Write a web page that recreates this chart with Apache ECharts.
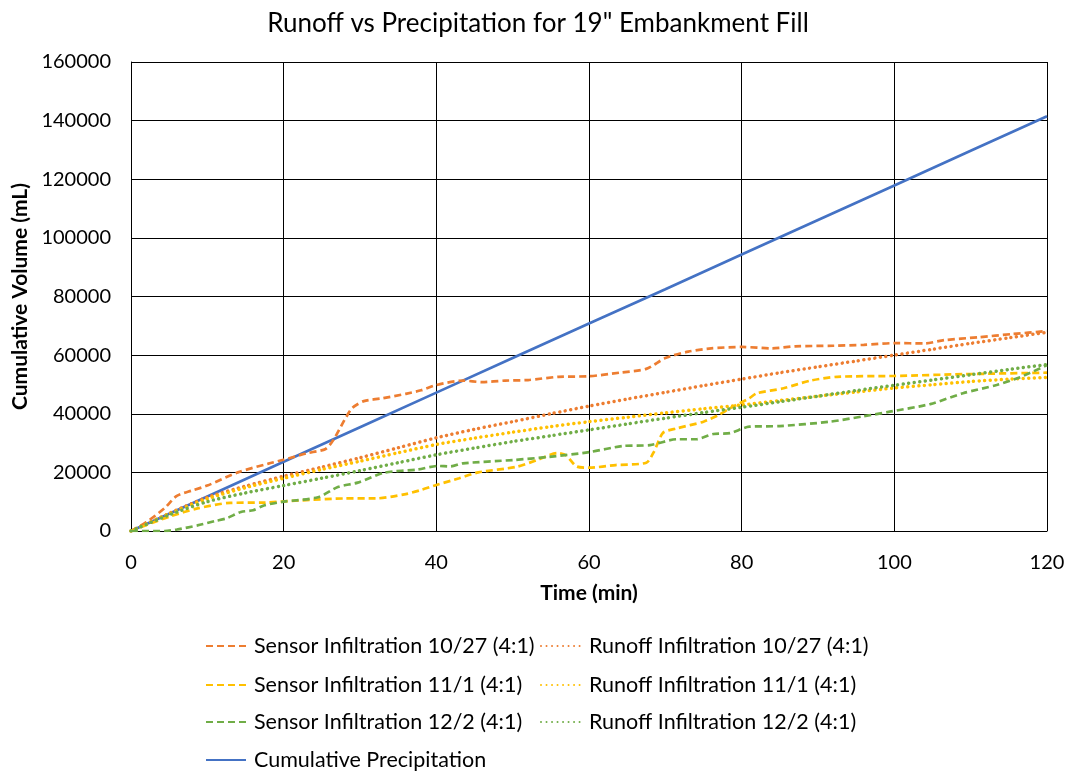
<!DOCTYPE html>
<html><head><meta charset="utf-8">
<script src="https://cdn.jsdelivr.net/npm/echarts@6/dist/echarts.min.js"></script>
<style>html,body{margin:0;padding:0;background:#fff}#c{width:1071px;height:772px}</style>
</head><body><div id="c"></div>
<script>
const titleText = 'Runoff vs Precipitation for 19" Embankment Fill';
const xTicks = [0, 20, 40, 60, 80, 100, 120];
const seriesNames = [
  'Sensor Infiltration 10/27 (4:1)', 'Runoff Infiltration 10/27 (4:1)',
  'Sensor Infiltration 11/1 (4:1)', 'Runoff Infiltration 11/1 (4:1)',
  'Sensor Infiltration 12/2 (4:1)', 'Runoff Infiltration 12/2 (4:1)',
  'Cumulative Precipitation'
];
const sensor1027 = [[0,0],[2,3000],[4.4,7800],[6,12000],[8,13800],[10,15500],[14,20000],[18,23000],[20,24300],[23,26500],[25.5,28000],[26.5,31000],[28,38000],[29,42000],[30.5,44300],[33,45300],[36,46800],[38,48000],[40,49800],[43.5,51300],[46,50800],[49,51300],[52,51500],[56,52600],[60,52800],[64,54000],[67.5,55300],[70,59000],[73,61200],[76,62300],[80,62800],[84,62300],[87,63000],[92,63200],[96,63500],[100,64100],[104,64000],[106.5,65100],[111,66100],[115.5,67200],[120,68200]];
const runoff1027 = [[0,0],[5,6000],[10,11500],[15,15300],[20,18700],[25,21800],[30,25000],[35,28400],[40,31800],[45,34700],[50,37300],[55,40000],[60,42600],[65,45000],[70,47300],[75,49600],[80,51800],[85,54000],[90,56000],[95,58000],[100,60000],[105,62000],[110,64000],[115,65900],[120,67800]];
const sensor111 = [[0,0],[3,3000],[5,4900],[8.7,7700],[13,9600],[17.5,9700],[22,10400],[28,11100],[32,11100],[36,12600],[38,14000],[40,15700],[43,18000],[45.5,20000],[50.5,21900],[53.5,24500],[55.8,26600],[57,25800],[58.4,22000],[60,21600],[63.5,22500],[67.5,23300],[68.5,27000],[69.7,33500],[71.5,35000],[75,37300],[77,39600],[78.5,41900],[81,45300],[82,47000],[85.5,48700],[89,51300],[92.5,52600],[100,52900],[109,53500],[120,54000]];
const runoff111 = [[0,0],[5,5800],[10,11000],[15,14800],[20,18000],[25,21000],[30,23800],[35,26700],[40,29500],[45,31700],[50,33700],[55,35600],[60,37300],[65,38800],[70,40300],[75,41700],[80,43000],[85,44500],[90,46000],[95,47400],[100,48800],[105,49900],[110,51000],[115,51800],[120,52400]];
const sensor122 = [[0,0],[4.4,0],[6,500],[8.7,1900],[11,3400],[12.5,4300],[14.4,6500],[16,7100],[17.5,8800],[20,10000],[24.5,11500],[27.1,15000],[29.7,16500],[33.2,19900],[37.6,21000],[40.2,22200],[41.8,22000],[43.5,23100],[50,24200],[54.8,25300],[60,26900],[64.4,29000],[68,29300],[71.5,31300],[74,31300],[76.3,33100],[78.5,33400],[81,35600],[85,35800],[91.6,37300],[95.9,39100],[99.4,40700],[104.7,43300],[109,47000],[113.4,49800],[116.5,52500],[120,56600]];
const runoff122 = [[0,0],[5,5500],[10,10000],[15,13000],[20,15500],[25,18000],[30,20600],[35,23300],[40,26000],[45,28300],[50,30500],[55,32500],[60,34500],[65,36500],[70,38500],[75,40400],[80,42200],[85,44100],[90,46000],[95,47900],[100,49700],[105,51500],[110,53300],[115,55100],[120,56800]];
const precip = [[0,0],[10,11800],[20,23600],[30,35400],[40,47200],[50,59000],[60,70800],[70,82500],[80,94300],[90,106100],[100,117900],[110,129700],[120,141500]];

const FONT = 'Lato';
const colors = ['#ED7D31','#ED7D31','#FFC000','#FFC000','#70AD47','#70AD47','#4472C4'];
const datasets = [sensor1027, runoff1027, sensor111, runoff111, sensor122, runoff122, precip];
const isDotted = [false, true, false, true, false, true, false];

const series = datasets.map((d, i) => ({
  name: seriesNames[i], type: 'line', data: d, symbol: 'none',
  smooth: i === 6 ? false : 0.25,
  lineStyle: isDotted[i]
    ? { color: colors[i], width: 3.5, type: [0.01, 5.5], cap: 'round' }
    : { color: colors[i], width: 2.7, type: i === 6 ? 'solid' : [7, 4], cap: 'butt' },
  itemStyle: { color: colors[i] },
  z: i === 6 ? 1 : 2
}));

// legend slots: [seriesIndex, left, centerY]
const legendSlots = [[0,205,646],[2,205,685],[4,205,722],[6,205,760],[1,540,646],[3,540,685],[5,540,722]];
const legends = legendSlots.map(([si, l, cy]) => ({
  data: [seriesNames[si]], left: l, top: cy - 12, orient: 'horizontal',
  itemWidth: 40, itemHeight: 24, itemGap: 0, padding: 0,
  itemStyle: { opacity: 0 },
  selectedMode: false,
  textStyle: { fontFamily: FONT, fontSize: 21.5, color: '#000', lineHeight: 24, padding: [0,0,0,3] }
}));

const chart = echarts.init(document.getElementById('c'), null, { renderer: 'canvas' });
chart.setOption({
  animation: false,
  backgroundColor: '#fff',
  title: { text: titleText, left: 533, top: 6, textAlign: 'center',
    textStyle: { fontFamily: FONT, fontSize: 26, fontWeight: 'normal', color: '#000' } },
  grid: { left: 131, right: 24, top: 62, bottom: 241 },
  xAxis: { type: 'value', min: 0, max: 120, interval: 20,
    name: 'Time (min)', nameLocation: 'middle', nameGap: 52,
    nameTextStyle: { fontFamily: FONT, fontSize: 21, fontWeight: 'bold', color: '#000' },
    axisLine: { show: true, lineStyle: { color: '#000', width: 1 } },
    axisTick: { show: false },
    axisLabel: { fontFamily: FONT, fontSize: 20, color: '#000', margin: 22 },
    splitLine: { show: true, lineStyle: { color: '#000', width: 1 } } },
  yAxis: { type: 'value', min: 0, max: 160000, interval: 20000,
    name: 'Cumulative Volume (mL)', nameLocation: 'middle', nameGap: 98,
    nameTextStyle: { fontFamily: FONT, fontSize: 21, fontWeight: 'bold', color: '#000' },
    axisLine: { show: true, lineStyle: { color: '#000', width: 1 } },
    axisTick: { show: false },
    axisLabel: { fontFamily: FONT, fontSize: 20, color: '#000', margin: 20, formatter: v => String(v) },
    splitLine: { show: true, lineStyle: { color: '#000', width: 1 } } },
  legend: legends,
  series: series
});
</script></body></html>
